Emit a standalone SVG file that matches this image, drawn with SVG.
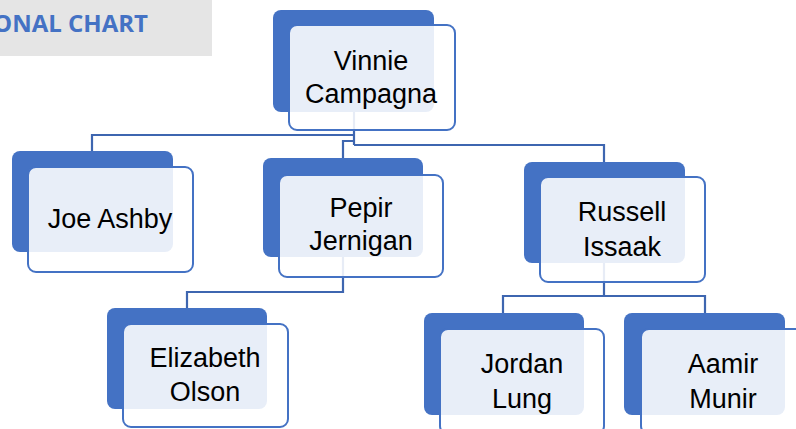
<svg xmlns="http://www.w3.org/2000/svg" width="796" height="429" viewBox="0 0 796 429">
<style>
.back{fill:#4472C4}
.front{fill:#FFFFFF;fill-opacity:0.88;stroke:#4472C4;stroke-width:2}
.lbl{font-family:"Liberation Sans",Arial,sans-serif;font-size:27px;fill:#000;text-anchor:middle}
.conn{fill:none;stroke:#3E66B0;stroke-width:2.2}
.title{font-family:"Open Sans","Liberation Sans",Arial,sans-serif;font-size:24px;font-weight:bold;fill:#4472C4;text-anchor:end}
</style>
<rect x="0" y="0" width="212" height="56" fill="#E5E5E5"/>
<text class="title" x="148" y="32">ONAL CHART</text>
<g id="connectors">
<path class="conn" d="M354,112 V145"/>
<path class="conn" d="M354,135 H92 V151"/>
<path class="conn" d="M354,141 H343 V158"/>
<path class="conn" d="M354,145 H604 V162"/>
<path class="conn" d="M343,257 V292 H187 V308"/>
<path class="conn" d="M604,263 V296 H503 V313"/>
<path class="conn" d="M604,296 H705 V313"/>
</g>
<g id="vinnie">
<rect class="back" x="273" y="10" width="161" height="102" rx="8"/>
<rect class="front" x="289" y="25" width="166" height="105" rx="8"/>
<text class="lbl" x="371" y="70">Vinnie</text>
<text class="lbl" x="371" y="103">Campagna</text>
</g>
<g id="joe">
<rect class="back" x="12" y="151" width="161" height="101" rx="8"/>
<rect class="front" x="28" y="167" width="165" height="105" rx="8"/>
<text class="lbl" x="110" y="228">Joe Ashby</text>
</g>
<g id="pepir">
<rect class="back" x="263" y="158" width="160" height="99" rx="8"/>
<rect class="front" x="279" y="175" width="164" height="102" rx="8"/>
<text class="lbl" x="361" y="217">Pepir</text>
<text class="lbl" x="361" y="250">Jernigan</text>
</g>
<g id="russell">
<rect class="back" x="524" y="162" width="161" height="101" rx="8"/>
<rect class="front" x="540" y="177" width="165" height="105" rx="8"/>
<text class="lbl" x="622" y="221">Russell</text>
<text class="lbl" x="622" y="256">Issaak</text>
</g>
<g id="elizabeth">
<rect class="back" x="107" y="308" width="160" height="101" rx="8"/>
<rect class="front" x="123" y="324" width="165" height="103" rx="8"/>
<text class="lbl" x="205" y="367">Elizabeth</text>
<text class="lbl" x="205" y="401">Olson</text>
</g>
<g id="jordan">
<rect class="back" x="424" y="313" width="160" height="102" rx="8"/>
<rect class="front" x="440" y="329" width="164" height="105" rx="8"/>
<text class="lbl" x="522" y="373">Jordan</text>
<text class="lbl" x="522" y="408">Lung</text>
</g>
<g id="aamir">
<rect class="back" x="624" y="313" width="161" height="102" rx="8"/>
<rect class="front" x="641" y="329" width="165" height="105" rx="8"/>
<text class="lbl" x="723" y="373">Aamir</text>
<text class="lbl" x="723" y="408">Munir</text>
</g>
</svg>
